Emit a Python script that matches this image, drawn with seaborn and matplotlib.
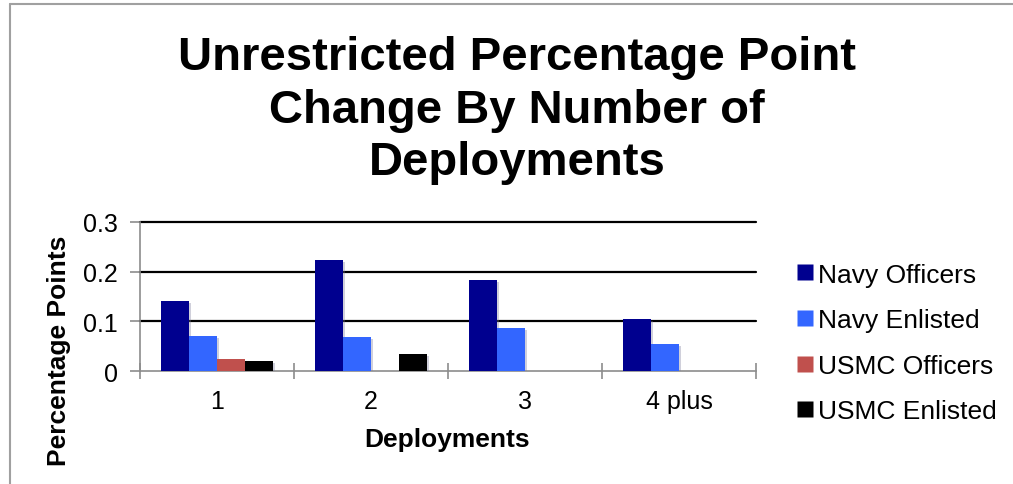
import matplotlib
matplotlib.use("Agg")
import matplotlib.pyplot as plt
import matplotlib.patheffects as pe
from matplotlib.lines import Line2D
import numpy as np
import pandas as pd
import seaborn as sns

# Chart data
deployments = ["1", "2", "3", "4 plus"]
groups = ["Navy Officers", "Navy Enlisted", "USMC Officers", "USMC Enlisted"]
navy_officers = [0.141, 0.223, 0.184, 0.105]
navy_enlisted = [0.071, 0.069, 0.086, 0.055]
usmc_officers = [0.024, np.nan, np.nan, np.nan]
usmc_enlisted = [0.021, 0.035, np.nan, np.nan]
colors = ["#00008F", "#3366FF", "#C0504D", "#000000"]
y_ticks = [0, 0.1, 0.2, 0.3]
y_tick_labels = ["0", "0.1", "0.2", "0.3"]

df = pd.DataFrame({
    "Deployments": deployments * 4,
    "Group": np.repeat(groups, len(deployments)),
    "Value": navy_officers + navy_enlisted + usmc_officers + usmc_enlisted,
})

sns.set_theme(style="white")
plt.rcParams["font.family"] = ["Liberation Sans", "DejaVu Sans"]
plt.rcParams["text.color"] = "black"
plt.rcParams["xtick.color"] = "black"
plt.rcParams["ytick.color"] = "black"

W, H = 1013, 485
fig = plt.figure(figsize=(W / 100, H / 100), dpi=100)
ax = fig.add_axes([140 / W, 1 - 372 / H, (756 - 140) / W, (372 - 223) / H])

sns.barplot(data=df, x="Deployments", y="Value", hue="Group",
            order=deployments, hue_order=groups, palette=colors,
            width=0.727, saturation=1, ax=ax, legend=False, zorder=3)

shadow = [pe.SimplePatchShadow(offset=(1.5, -1.5), shadow_rgbFace="#7a7a9a", alpha=0.35), pe.Normal()]
for patch in ax.patches:
    patch.set_path_effects(shadow)
    patch.set_edgecolor("none")

ax.set_xlim(-0.5, len(deployments) - 0.5)
ax.set_ylim(0, 0.3)
ax.set_yticks(y_ticks)
ax.set_yticklabels(y_tick_labels)
ax.set_xlabel("")
ax.set_ylabel("")

# Horizontal gridlines
for v in y_ticks[1:]:
    ax.axhline(v, color="black", lw=1.6, zorder=1, clip_on=False)

for s in ["top", "right"]:
    ax.spines[s].set_visible(False)
for s in ["left", "bottom"]:
    ax.spines[s].set_visible(True)
    ax.spines[s].set_color("#8c8c8c")
    ax.spines[s].set_linewidth(1.2)

ax.tick_params(axis="y", which="major", direction="out", length=7, width=1.2,
               color="#8c8c8c", labelcolor="black", labelsize=18, pad=9, left=True)
ax.tick_params(axis="x", which="major", length=0, labelcolor="black", labelsize=18, pad=13)
ax.set_xticks(np.arange(-0.5, len(deployments)), minor=True)
ax.tick_params(axis="x", which="minor", direction="inout", length=12, width=1.2,
               color="#8c8c8c", bottom=True)

fig.text(447 / W, 1 - 440 / H, "Deployments", ha="center", va="center",
         fontsize=19, fontweight="bold")
fig.text(59 / W, 1 - 351 / H, "Percentage Points", ha="center", va="center",
         rotation=90, fontsize=19, fontweight="bold")

fig.text(517 / W, 1 - 111 / H,
         "Unrestricted Percentage Point\nChange By Number of\nDeployments",
         ha="center", va="center", fontsize=34, fontweight="bold",
         linespacing=1.25)

handles = [Line2D([0], [0], marker="s", linestyle="none", markersize=11,
                  markerfacecolor=c, markeredgecolor="none") for c in colors]
fig.legend(handles, groups, loc="center left", bbox_to_anchor=(797 / W, 1 - 344 / H),
           frameon=False, fontsize=19, handlelength=0.6, handletextpad=0.2,
           labelspacing=0.82, borderaxespad=0, borderpad=0)

# Outer frame edges
fig.add_artist(Line2D([9.5 / W, 9.5 / W], [0, 1 - 4.5 / H], color="#a0a0a0", lw=1.5))
fig.add_artist(Line2D([9.5 / W, 1], [1 - 4.5 / H, 1 - 4.5 / H], color="#a0a0a0", lw=1.5))

fig.savefig("out.png", dpi=100, facecolor="white")
